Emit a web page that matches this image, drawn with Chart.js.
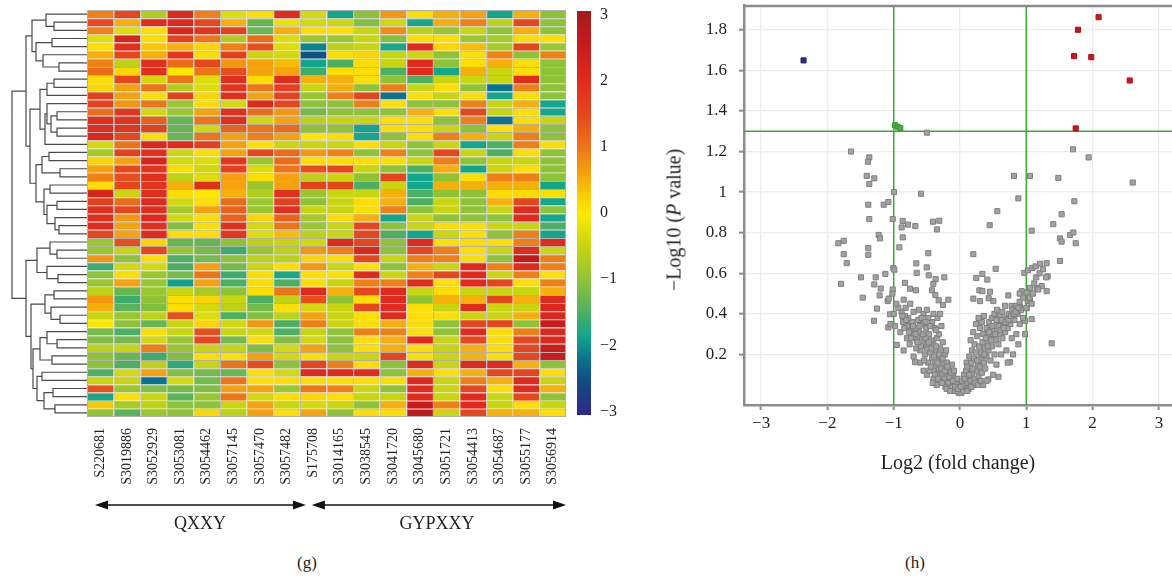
<!DOCTYPE html>
<html>
<head>
<meta charset="utf-8">
<script src="https://cdn.jsdelivr.net/npm/chart.js@4.4.1/dist/chart.umd.min.js"></script>
<style>
  html, body { margin: 0; padding: 0; background: #fff; overflow: hidden; width: 1172px; height: 580px; }
  body { position: relative; font-family: "Liberation Serif", "DejaVu Serif", serif; color: #231f20; }
  canvas { position: absolute; }
  .txt { position: absolute; white-space: nowrap; transform: translate(-50%, -50%); }
</style>
</head>
<body>
<canvas id="dendro" width="87" height="407" style="left:0;top:10px"></canvas>
<canvas id="heat" width="479" height="507" style="left:87px;top:10px"></canvas>
<canvas id="scale" width="45" height="424" style="left:577px;top:1px"></canvas>
<canvas id="volcano" width="560" height="480" style="left:640px;top:0"></canvas>

<div class="txt" style="left:200px;top:523px;font-size:18px">QXXY</div>
<div class="txt" style="left:437px;top:523px;font-size:18px">GYPXXY</div>
<div class="txt" style="left:307px;top:563px;font-size:17px">(g)</div>
<div class="txt" style="left:915px;top:563px;font-size:17px">(h)</div>
<div class="txt" style="left:958px;top:462px;font-size:20px">Log2 (fold change)</div>
<div class="txt" style="left:674px;top:220px;font-size:20px;transform:translate(-50%,-50%) rotate(-90deg)">&minus;Log10 (<i>P</i> value)</div>

<script>
// ---------- heatmap data ----------
const samples = ['S220681', 'S3019886', 'S3052929', 'S3053081', 'S3054462', 'S3057145', 'S3057470', 'S3057482',
  'S175708', 'S3014165', 'S3038545', 'S3041720', 'S3045680', 'S3051721', 'S3054413', 'S3054687', 'S3055177', 'S3056914'];

// one row per gene, one value per sample (z-score)
const heat = [
  [0.9,1.5,-0.7,2.0,0.9,-0.3,0.1,2.0,-0.4,-1.85,-1.0,0.7,0.1,0.5,0.6,-1.85,0.5,-1.0],
  [1.5,0.5,2.0,2.1,1.5,0.5,-1.3,-0.2,-0.4,-0.5,-1.1,-0.4,-1.8,0.5,0.9,-0.6,1.5,-1.0],
  [0.9,-0.3,0.1,2.1,1.8,1.6,-1.3,0.5,0.1,0.1,-0.5,0.8,-0.6,-0.9,-0.5,-1.0,0.5,-1.0],
  [-0.3,2.2,0.1,1.6,1.0,-0.7,1.1,-0.3,-0.9,-0.9,-0.5,-1.1,0.1,0.1,-0.9,-0.8,0.1,0.1],
  [0.1,1.9,0.3,0.5,0.2,0.9,1.4,-0.3,-2.1,-0.6,-0.5,-1.8,2.0,0.2,0.4,-0.8,1.5,-0.9],
  [0.5,1.5,0.5,1.8,0.1,1.6,-0.5,-0.4,-2.5,0.1,0.2,-0.5,-0.5,-1.0,0.1,0.9,-1.0,0.9],
  [0.9,-0.6,1.9,1.1,1.5,0.7,0.6,0.4,-1.85,-1.5,0.1,-0.5,2.0,-1.0,0.1,0.5,0.1,-1.0],
  [1.1,0.2,1.9,0.0,1.0,1.4,0.6,0.6,-1.6,0.1,0.1,-1.5,2.0,-1.85,0.5,-0.5,0.1,-1.0],
  [0.1,1.5,-0.4,1.0,-0.3,1.9,0.1,2.0,0.5,0.5,0.1,-1.0,-1.5,-0.5,-0.5,-0.5,2.0,-1.0],
  [0.2,0.6,1.0,-0.7,-0.3,1.8,1.0,1.6,-0.5,0.5,-1.0,0.9,-0.5,0.1,-1.0,-2.2,0.9,-1.0],
  [1.6,0.6,0.1,1.6,0.2,1.9,0.6,1.6,-0.9,0.9,1.5,-2.2,0.1,-0.5,0.1,-1.85,0.1,-1.0],
  [1.6,0.7,1.0,-0.9,0.1,-0.4,2.0,1.5,-1.0,-1.0,0.9,0.1,-1.0,-1.0,0.9,-0.5,0.5,-1.85],
  [1.1,1.8,-0.4,-0.9,0.6,1.9,1.1,0.7,-1.2,-1.0,-1.0,-1.0,0.5,0.1,1.5,-0.5,0.1,-1.85],
  [1.9,1.8,1.2,-1.3,1.0,1.9,-0.4,0.6,-0.6,-0.5,-0.5,0.1,0.1,-1.0,0.9,-2.2,0.1,-0.5],
  [1.9,1.8,1.6,-1.3,-0.4,1.2,1.0,1.1,-1.0,-1.0,-1.85,0.1,0.1,-0.5,-1.0,0.1,0.5,-1.0],
  [2.1,1.5,0.1,-1.3,1.0,0.6,0.9,0.6,0.0,0.1,-1.85,-1.0,0.1,0.9,0.5,-0.5,0.9,-1.0],
  [-0.4,1.0,2.1,2.0,1.6,0.6,0.1,-0.5,-0.5,-0.5,0.1,-0.5,-1.0,-0.5,-1.85,-1.5,0.9,0.1],
  [-0.8,1.6,1.9,-0.5,0.1,0.6,1.5,1.1,0.7,0.9,-1.0,0.9,-1.0,1.5,-0.5,-1.5,0.1,-1.0],
  [0.2,0.6,2.2,-0.4,-0.3,1.8,-0.9,1.1,0.1,0.1,0.1,0.1,-0.5,0.9,-1.0,-0.5,-0.5,-1.0],
  [0.6,1.5,1.8,0.1,-0.4,1.6,-0.3,1.0,1.4,1.5,-0.5,-1.0,-1.5,0.5,-1.85,-0.5,0.1,-1.0],
  [0.9,1.4,1.9,-0.6,-0.3,0.6,0.1,0.6,-0.6,-0.5,-1.0,1.5,-1.85,-1.0,0.1,0.9,0.9,-1.0],
  [0.1,1.5,1.8,0.5,1.9,0.6,-0.9,0.6,1.6,1.5,-1.5,-0.5,-1.85,0.5,0.5,0.5,0.5,-1.85],
  [2.2,-0.5,1.9,0.1,0.0,0.5,-0.7,1.9,-0.9,-0.5,-0.5,0.5,-1.5,-1.0,-1.0,0.1,0.1,0.1],
  [1.6,1.1,2.0,-0.4,0.1,1.1,-0.9,1.6,-1.0,-0.5,0.1,0.5,-1.5,-0.5,-1.0,0.5,1.5,-1.85],
  [1.9,1.5,1.9,-0.8,0.6,1.2,-0.9,1.9,-0.5,-0.5,0.1,0.9,-1.0,-0.5,-1.0,-0.5,2.0,-1.0],
  [1.9,0.7,2.0,-0.4,0.1,1.2,0.2,1.2,-0.8,0.1,0.5,-1.85,-0.5,-1.0,-1.0,-1.0,2.0,-1.85],
  [2.0,0.6,1.9,-1.1,0.1,1.9,-0.4,1.0,-0.9,-0.5,1.5,-1.0,-0.5,0.1,0.1,-0.5,-0.5,-1.5],
  [1.5,0.6,2.0,0.1,0.1,1.8,-0.3,0.4,-0.6,-0.5,1.5,-1.5,-1.85,-0.5,0.1,-1.0,0.9,-1.85],
  [-0.9,1.4,0.2,-1.3,-1.3,-1.0,-0.6,-0.5,-0.4,2.0,1.5,-1.0,2.0,0.1,0.1,0.1,0.9,2.0],
  [-0.9,-0.5,1.5,-0.9,-1.2,-1.6,-0.9,-0.6,0.7,0.9,2.1,-1.0,1.5,0.9,0.1,-0.5,2.0,-0.5],
  [0.7,-1.0,0.1,-1.5,-1.2,-1.0,-0.6,-0.6,0.2,0.1,1.5,-0.5,0.9,0.9,0.1,-1.0,2.6,0.9],
  [-1.6,-0.4,-0.4,-1.5,0.6,-1.2,-0.5,0.1,0.7,-0.5,0.1,-1.0,0.5,-0.5,2.0,0.9,2.0,0.9],
  [-1.0,0.1,-0.9,-1.2,1.0,-1.6,0.1,-1.8,0.1,0.1,2.0,-0.5,0.9,1.5,2.0,-0.5,0.9,0.1],
  [-0.9,0.6,-0.9,-1.9,0.6,-1.5,0.1,-1.5,0.1,-0.5,0.9,0.9,2.0,0.1,2.0,1.5,0.1,0.9],
  [-0.6,-1.3,-0.9,-0.5,-0.8,-1.0,0.1,1.0,2.0,0.5,1.5,2.0,-0.5,0.1,-0.5,-0.5,-0.5,0.5],
  [0.7,-1.6,-1.0,0.1,0.2,-0.5,-1.5,-0.6,1.4,-1.0,0.1,2.0,-1.0,0.5,0.5,1.5,0.5,2.0],
  [0.5,-1.4,-1.1,0.1,-0.4,-0.6,-1.2,0.1,-0.4,-0.5,1.5,2.0,0.1,-0.5,2.0,-0.5,-0.5,2.1],
  [-0.5,-0.9,-0.6,1.4,-0.3,-1.5,-1.1,-0.6,0.6,-0.5,0.1,2.0,0.1,0.1,-0.5,-0.5,0.5,2.1],
  [0.0,-1.0,-1.3,-0.5,0.2,-0.4,0.7,-1.5,0.9,-0.5,0.1,0.5,0.1,-1.0,1.5,1.5,-1.0,2.5],
  [-1.2,-1.5,0.1,-0.5,1.4,-0.5,-0.4,-1.5,-0.5,-1.0,0.9,0.9,0.1,-1.0,2.0,0.1,0.9,2.1],
  [-1.1,-1.2,-0.4,-0.9,1.5,-1.2,0.1,-1.1,-0.4,-1.0,0.1,0.5,2.0,-0.5,1.5,0.1,1.5,2.1],
  [-0.6,-0.5,0.9,-0.9,-0.5,-0.5,-1.1,-0.4,0.6,-1.0,0.1,0.5,0.1,-0.5,0.5,0.1,1.5,2.5],
  [-1.0,-1.3,-1.6,-1.1,0.1,0.1,0.6,-0.4,0.1,-0.5,-0.5,1.5,0.1,-0.5,0.5,0.1,1.5,2.5],
  [-1.0,-1.5,-0.6,-1.7,-0.5,1.0,1.4,-1.0,1.5,0.9,0.1,-1.0,2.0,-0.5,2.0,2.0,0.5,-1.0],
  [-1.5,-0.4,0.6,-1.1,-1.2,-1.3,0.1,-0.4,2.0,2.0,2.0,-1.0,0.5,0.1,0.5,1.5,1.5,0.1],
  [-0.5,-0.5,-2.2,-0.4,-1.2,1.0,0.1,0.1,0.1,0.1,0.1,0.1,2.0,-0.5,0.9,0.5,2.0,-0.5],
  [1.4,-0.9,-1.1,-1.2,-1.1,0.6,0.6,-0.9,1.0,0.9,-0.5,-1.0,2.0,-0.5,1.5,0.1,2.0,0.5],
  [-1.8,0.1,-0.5,-1.4,-0.9,1.0,-0.4,0.1,0.2,0.1,-0.5,-0.5,2.0,-0.5,2.0,-0.5,1.5,-1.0],
  [0.3,-0.8,-0.6,-1.0,-1.0,-0.5,0.6,-0.5,-0.4,-0.5,-1.0,0.5,2.6,0.9,2.0,-0.5,0.1,-0.5],
  [-1.0,-1.4,-0.9,-1.0,0.2,-0.6,0.6,0.1,0.6,-1.0,0.1,0.1,2.7,-0.5,1.5,0.5,0.5,0.1]
];

// row clustering: [height, left, right], numbers are row indexes
const clusterA = [55, [41, 0, [33, 1, 2]], [51, [35, 3, 4], [44, 5, [28, 6, 7]]]];
const clusterB = [47, [40, [33, 8, 9], 10], [42, [40, 11, [36, [30, 12, 13], [30, 14, 15]]], 16]];
const clusterC = [51, [45, [38, 17, 18], [27, 19, 20]], [43, [37, 21, 22], [40, [30, 23, 24], [32, 25, [28, 26, 27]]]]];
const clusterD = [50, [37, 28, [30, 29, 30]], [40, 31, [29, 32, 33]]];
const clusterE = [42, [33, 34, 35], [36, 36, [27, 37, 38]]];
const clusterF = [47, [40, 39, [30, 40, 41]], [35, 42, 43]];
const clusterG = [50, [45, 44, 45], [43, [34, 46, 47], [32, 48, 49]]];
const rowTree = [75, [61, clusterA, [57, clusterB, clusterC]], [61, clusterD, [56, clusterE, [54, clusterF, clusterG]]]];

const scaleTicks = [3, 2, 1, 0, -1, -2, -3];

// ---------- volcano data: [log2 fold change, -log10 p] ----------
const upGenes = [[2.09, 1.862], [1.78, 1.80], [1.72, 1.67], [1.98, 1.665], [2.56, 1.55], [1.745, 1.314]];
const downGenes = [[-2.36, 1.649]];
const edgeGenes = [[-0.98, 1.33], [-0.94, 1.322], [-0.9, 1.316]];
const otherGenes = [
  [-0.50,1.293],[-1.644,1.20],[-1.368,1.171],[-1.388,1.150],[-1.407,1.08],[-1.293,1.068],[-1.368,1.04],[-0.995,1.00],
  [-0.588,0.992],[-1.383,0.938],[-1.151,0.938],[-1.081,0.951],[1.704,1.211],[1.94,1.171],[0.814,1.08],[1.056,1.08],
  [1.483,1.07],[2.605,1.047],[0.88,0.969],[1.724,0.955],[0.563,0.906],
  [-1.368,0.867],[-1.015,0.867],[-0.864,0.858],[-0.784,0.840],[-0.674,0.833],[-0.407,0.854],[-0.312,0.859],[-0.347,0.816],
  [0.448,0.837],[1.081,0.81],[1.407,0.842],[1.533,0.891],[1.508,0.772],[1.533,0.756],[1.659,0.789],[1.709,0.801],
  [1.745,0.748],[1.508,0.661],[-0.88,0.826],
  [-1.835,0.748],[-1.754,0.76],[-1.754,0.694],[-1.709,0.65],[-1.795,0.548],[-1.493,0.58],[-1.468,0.48],[-1.383,0.724],
  [-1.383,0.691],[-1.226,0.789],[-1.207,0.772],[-1.272,0.58],[-1.293,0.545],[-1.196,0.525],[-1.212,0.491],[-1.252,0.426],
  [-1.297,0.366],[-1.126,0.597],[-1.091,0.463],[-1.076,0.475],[-1.015,0.52],[-1.006,0.626],[-0.991,0.618],[-0.915,0.728],
  [-0.864,0.777],[-0.83,0.553],[-0.754,0.524],[-0.664,0.516],[-0.659,0.649],[-0.653,0.602],[-0.478,0.699],[-0.502,0.629],
  [-0.472,0.59],[-0.367,0.571],[-0.237,0.58],[-0.402,0.548],[-0.422,0.516],[-0.372,0.493],[-0.322,0.467],[-0.176,0.47],
  [-0.256,0.444],
  [0.201,0.694],[0.246,0.577],[0.337,0.597],[0.412,0.569],[0.538,0.622],[0.201,0.475],[0.292,0.516],[0.337,0.512],
  [0.452,0.509],[0.302,0.463],[0.432,0.477],[0.503,0.463],[0.729,0.491],[0.97,0.602],[1.026,0.615],[1.091,0.626],
  [1.141,0.634],[1.207,0.647],[1.307,0.65],[1.322,0.585],[1.056,0.528],[1.157,0.528],[1.232,0.537],[1.307,0.512],
  [0.93,0.512],[1.006,0.504],[1.021,0.463],[1.056,0.468],[0.779,0.439],[0.83,0.428],[0.905,0.434],[1.006,0.428],
  [0.98,0.366],[1.081,0.374],[1.383,0.255],[0.754,0.162],[0.427,0.077],[-0.679,0.162],[-0.955,0.247],[-1.081,0.333],
  [-1.056,0.398],
  [-0.02,0.01],[-0.05,0.02],[0.02,0.01],[-0.08,0.03],[0.05,0.02],[-0.1,0.05],[0.08,0.04],[-0.12,0.02],[0.1,0.06],
  [-0.06,0.06],[0.04,0.05],[-0.15,0.04],[0.13,0.03],[-0.14,0.08],[0.12,0.09],[-0.18,0.06],[0.16,0.07],[-0.2,0.1],
  [0.18,0.11],[-0.22,0.04],[0.2,0.05],[-0.24,0.08],[0.22,0.08],[-0.17,0.12],[0.15,0.13],[-0.27,0.11],[0.25,0.12],
  [-0.3,0.07],[0.28,0.09],[-0.25,0.14],[0.27,0.15],[-0.32,0.13],[0.3,0.14],[-0.35,0.1],[0.33,0.11],[-0.29,0.17],
  [0.31,0.18],[-0.38,0.15],[0.36,0.16],[-0.33,0.19],[0.34,0.2],[-0.4,0.12],[0.38,0.13],[-0.42,0.18],[0.4,0.19],
  [-0.37,0.22],[0.37,0.23],[-0.45,0.21],[0.43,0.22],[-0.4,0.25],[0.41,0.26],[-0.48,0.16],[0.46,0.17],[-0.44,0.27],
  [0.45,0.28],[-0.5,0.23],[0.48,0.24],[-0.47,0.3],[0.5,0.3],[-0.53,0.2],[0.52,0.2],[-0.55,0.26],[0.54,0.27],
  [-0.51,0.33],[0.56,0.32],[-0.58,0.29],[0.58,0.25],[-0.6,0.22],[0.6,0.3],[-0.57,0.35],[0.62,0.34],[-0.62,0.31],
  [0.64,0.28],[-0.65,0.27],[0.66,0.36],[-0.63,0.37],[0.68,0.31],[-0.68,0.33],[0.7,0.38],[-0.7,0.3],[0.72,0.33],
  [-0.72,0.36],[0.74,0.4],[-0.75,0.32],[0.76,0.35],[-0.78,0.38],[0.79,0.42],[-0.8,0.34],[0.82,0.37],[-0.83,0.39],
  [0.85,0.44],[-0.86,0.36],[0.87,0.4],[-0.88,0.41],[0.9,0.46],[-0.9,0.31],[0.92,0.42],[-0.93,0.43],[0.95,0.48],
  [-0.1,0.1],[-0.12,0.15],[-0.2,0.16],[-0.23,0.2],[-0.3,0.23],[-0.26,0.26],[-0.35,0.28],[-0.32,0.3],[-0.38,0.33],
  [-0.28,0.34],[-0.42,0.36],[-0.34,0.38],[-0.3,0.4],[-0.4,0.4],[-0.45,0.34],[-0.36,0.32],[0.06,0.1],[0.1,0.16],
  [0.14,0.19],[0.18,0.22],[0.22,0.25],[0.16,0.27],[0.26,0.29],[0.2,0.31],[0.3,0.33],[0.24,0.35],[0.33,0.36],
  [0.28,0.38],[0.36,0.39],[0.4,0.33],[0.44,0.36],[0.48,0.38],[0.52,0.4],[0.56,0.42],[0.6,0.39],[0.64,0.41],
  [0.68,0.44],[0.35,0.3],[0.42,0.3],[0.46,0.32],
  [-1.0,0.4],[-0.98,0.34],[-1.05,0.35],[-0.96,0.45],[-1.02,0.5],[-0.85,0.47],[-0.82,0.43],[-0.75,0.45],[-0.7,0.41],
  [-0.62,0.42],[-0.55,0.4],[-0.5,0.42],[-0.48,0.38],[-0.66,0.23],[-0.8,0.28],[-0.85,0.22],[-0.76,0.25],[-0.6,0.16],
  [-0.55,0.12],[-0.5,0.1],[-0.7,0.19],[-0.4,0.08],[-0.35,0.05],
  [0.9,0.35],[0.95,0.38],[1.0,0.43],[1.05,0.48],[1.1,0.5],[1.12,0.55],[1.15,0.58],[1.2,0.6],[1.25,0.62],[1.3,0.58],
  [1.18,0.52],[1.08,0.45],[0.98,0.3],[0.85,0.3],[0.78,0.28],[0.88,0.25],[0.7,0.22],[0.62,0.2],[0.55,0.15],[0.5,0.1],
  [0.72,0.16],[0.8,0.2],[0.4,0.07],[0.35,0.05],[0.58,0.09],[0.9,0.5],
  [-0.52,0.28],[-0.49,0.25],[-0.46,0.12],[-0.43,0.23],[-0.41,0.06],[-0.39,0.19],[-0.36,0.24],[-0.34,0.16],[-0.31,0.2],
  [-0.28,0.13],[-0.26,0.18],[-0.23,0.12],[-0.21,0.22],[-0.19,0.14],[-0.16,0.09],[-0.13,0.11],[-0.11,0.07],[-0.09,0.12],
  [-0.07,0.04],[-0.04,0.08],[-0.03,0.03],[0.01,0.04],[0.03,0.07],[0.07,0.08],[0.09,0.12],[0.11,0.14],[0.14,0.1],
  [0.17,0.16],[0.19,0.13],[0.21,0.18],[0.24,0.21],[0.26,0.17],[0.29,0.24],[0.32,0.21],[0.34,0.26],[0.37,0.2],
  [0.39,0.28],[0.42,0.24],[0.44,0.31],[0.47,0.27],[0.49,0.34],[0.53,0.3],[0.55,0.37],[0.58,0.34],[0.61,0.32],
  [0.63,0.37],[0.66,0.33],[0.69,0.36],[0.73,0.37],[0.77,0.39],[0.81,0.4],[0.84,0.41],[0.88,0.43],[-0.54,0.17],
  [-0.56,0.3],[-0.59,0.24],[-0.61,0.34],[-0.64,0.26],[-0.67,0.3],[-0.71,0.34],[-0.74,0.28],[-0.77,0.31],[-0.81,0.37],
  [-0.84,0.33],[-0.87,0.39],[-0.58,0.38],[-0.52,0.36],[-0.47,0.26],[-0.44,0.14],[-0.38,0.1],[-0.33,0.08],[-0.27,0.06],
  [-0.2,0.03],[-0.15,0.02],[0.11,0.02],[0.17,0.04],[0.23,0.06],[0.27,0.05],[0.31,0.07]
];
const fcCut = 1;
const pCut = 1.3;
const volXTicks = [-3, -2, -1, 0, 1, 2, 3];
const volYTicks = [0.2, 0.4, 0.6, 0.8, 1, 1.2, 1.4, 1.6, 1.8];
const volXRange = [-3.258, 3.258];
const volYRange = [-0.049, 1.922];

// ---------- helpers ----------
Chart.defaults.font.family = '"Liberation Serif", "DejaVu Serif", serif';
Chart.defaults.color = '#231f20';
Chart.defaults.animation = false;
Chart.defaults.plugins.legend.display = false;
Chart.defaults.plugins.tooltip.enabled = false;

const heatStops = [
  [-3, '#2e2a8a'], [-2.55, '#134a80'], [-2.2, '#0a7390'], [-1.85, '#12a68d'], [-1.5, '#4daf63'],
  [-1, '#8fc337'], [-0.5, '#c8d50f'], [0, '#ffe800'], [0.25, '#fbd004'], [0.6, '#f5a20e'],
  [1, '#ee7418'], [1.5, '#e6451d'], [2, '#e12a1d'], [2.6, '#c41a1b'], [3, '#a51b1f']
];
function hexRgb(h) { return [1, 3, 5].map(i => parseInt(h.substr(i, 2), 16)); }
function heatColor(v) {
  if (v <= heatStops[0][0]) return heatStops[0][1];
  for (let i = 1; i < heatStops.length; i++) {
    if (v <= heatStops[i][0]) {
      const [v0, c0] = heatStops[i - 1], [v1, c1] = heatStops[i];
      const t = (v - v0) / (v1 - v0), a = hexRgb(c0), b = hexRgb(c1);
      return 'rgb(' + a.map((x, k) => Math.round(x + (b[k] - x) * t)).join(',') + ')';
    }
  }
  return heatStops[heatStops.length - 1][1];
}
function minus(v) { return v < 0 ? '\u2212' + (-v) : String(v); }
// keep tick label padding from shrinking the plot area
function noPad(s) { s.paddingTop = 0; s.paddingBottom = 0; s.paddingLeft = 0; s.paddingRight = 0; }

// ---------- dendrogram ----------
const dendroPts = [];
function walk(node) {
  if (typeof node === 'number') return { y: node + 0.5, h: 0 };
  const l = walk(node[1]), r = walk(node[2]);
  dendroPts.push({ x: l.h, y: l.y }, { x: node[0], y: l.y }, { x: node[0], y: r.y }, { x: r.h, y: r.y }, { x: null, y: null });
  return { y: (l.y + r.y) / 2, h: node[0] };
}
walk(rowTree);

new Chart(document.getElementById('dendro'), {
  type: 'scatter',
  data: { datasets: [{ data: dendroPts, showLine: true, spanGaps: false, borderColor: '#4a4a4a', borderWidth: 1.2, pointRadius: 0 }] },
  options: {
    responsive: false,
    layout: { padding: 0 },
    scales: {
      x: { type: 'linear', min: 0, max: 87, reverse: true, display: false },
      y: { type: 'linear', min: 0, max: heat.length, reverse: true, display: false }
    }
  }
});

// ---------- heatmap ----------
function drawArrow(ctx, x1, x2, y) {
  const hl = 13, hw = 4.5;
  ctx.beginPath();
  ctx.moveTo(x1 + hl - 2, y); ctx.lineTo(x2 - hl + 2, y); ctx.stroke();
  ctx.beginPath();
  ctx.moveTo(x1, y); ctx.lineTo(x1 + hl, y - hw); ctx.lineTo(x1 + hl, y + hw); ctx.closePath(); ctx.fill();
  ctx.beginPath();
  ctx.moveTo(x2, y); ctx.lineTo(x2 - hl, y - hw); ctx.lineTo(x2 - hl, y + hw); ctx.closePath(); ctx.fill();
}

const heatFrame = {
  id: 'heatFrame',
  afterDatasetsDraw(chart) {
    const { ctx, chartArea: a, scales: { x } } = chart;
    const half = (x.getPixelForValue(1) - x.getPixelForValue(0)) / 2;
    ctx.save();
    ctx.strokeStyle = '#b0b0b0';
    ctx.lineWidth = 1;
    ctx.strokeRect(a.left + 0.5, a.top + 0.5, a.width - 1, a.height - 1);
    ctx.strokeStyle = '#111';
    ctx.fillStyle = '#111';
    ctx.lineWidth = 1.4;
    const y = a.bottom + 88;
    const split = x.getPixelForValue(8) - half;
    drawArrow(ctx, x.getPixelForValue(0) - half + 8, split + 6, y);
    drawArrow(ctx, split + 12, x.getPixelForValue(samples.length - 1) + half, y);
    ctx.restore();
  }
};

new Chart(document.getElementById('heat'), {
  type: 'bar',
  data: {
    labels: samples,
    datasets: heat.map((row, i) => ({
      data: row.map(() => [i, i + 1]),
      backgroundColor: row.map(heatColor),
      borderColor: '#b0b0b0',
      borderWidth: { left: 1, top: 1, right: 0, bottom: 0 },
      borderSkipped: false,
      inflateAmount: 0,
      barPercentage: 1,
      categoryPercentage: 1
    }))
  },
  options: {
    responsive: false,
    layout: { padding: 0 },
    scales: {
      x: {
        stacked: true,
        grid: { display: false, drawTicks: false },
        border: { display: false },
        ticks: { autoSkip: false, minRotation: 90, maxRotation: 90, padding: 11, font: { size: 14 }, color: '#231f20' },
        afterFit(s) { s.height = 100; noPad(s); }
      },
      y: { min: 0, max: heat.length, reverse: true, display: false }
    }
  },
  plugins: [heatFrame]
});

// ---------- colour scale ----------
new Chart(document.getElementById('scale'), {
  type: 'bar',
  data: {
    labels: [''],
    datasets: [{
      data: [[-3.05, 3.05]],
      barPercentage: 1,
      categoryPercentage: 1,
      borderWidth: 0,
      backgroundColor(c) {
        const chart = c.chart, y = chart.scales.y;
        if (!chart.chartArea || !y) return '#ffe800';
        const top = y.getPixelForValue(3.05), bottom = y.getPixelForValue(-3.05);
        const g = chart.ctx.createLinearGradient(0, top, 0, bottom);
        g.addColorStop(0, heatStops[heatStops.length - 1][1]);
        heatStops.forEach(([v, col]) => g.addColorStop((3.05 - v) / 6.1, col));
        g.addColorStop(1, heatStops[0][1]);
        return g;
      }
    }]
  },
  options: {
    responsive: false,
    layout: { padding: { top: 10, bottom: 10, left: 0, right: 0 } },
    scales: {
      x: { display: false },
      y: {
        position: 'right',
        min: -3.05, max: 3.05,
        afterBuildTicks(s) { s.ticks = scaleTicks.map(v => ({ value: v })); },
        afterFit(s) { s.width = 31; noPad(s); },
        grid: { display: false, drawTicks: false },
        border: { display: false },
        ticks: { padding: 9, font: { size: 16 }, color: '#231f20', callback: v => minus(v) }
      }
    }
  }
});

// ---------- volcano ----------
const boxPlugin = {
  id: 'box',
  afterDatasetsDraw(chart) {
    const { ctx, chartArea: a } = chart;
    ctx.save();
    ctx.strokeStyle = '#8c8c8c';
    ctx.lineWidth = 2.5;
    ctx.beginPath();
    ctx.moveTo(a.left, a.top + 1); ctx.lineTo(a.right, a.top + 1); ctx.lineTo(a.right, a.bottom);
    ctx.stroke();
    ctx.restore();
  }
};
const toXY = arr => arr.map(([x, y]) => ({ x, y }));
const ptStyle = (fill, edge) => ({ pointStyle: 'rect', pointRadius: 3.6, backgroundColor: fill, borderColor: edge, borderWidth: 1, order: 0 });
const cutLine = pts => ({ data: pts, showLine: true, borderColor: '#3aa935', borderWidth: 1.5, pointRadius: 0, order: 1 });

new Chart(document.getElementById('volcano'), {
  type: 'scatter',
  data: {
    datasets: [
      cutLine([{ x: -fcCut, y: volYRange[0] }, { x: -fcCut, y: volYRange[1] }]),
      cutLine([{ x: fcCut, y: volYRange[0] }, { x: fcCut, y: volYRange[1] }]),
      cutLine([{ x: volXRange[0], y: pCut }, { x: volXRange[1], y: pCut }]),
      Object.assign({ data: toXY(otherGenes) }, ptStyle('#a2a2a2', '#7f7f7f')),
      Object.assign({ data: toXY(edgeGenes) }, ptStyle('#46b03f', '#3a9a34')),
      Object.assign({ data: toXY(upGenes) }, ptStyle('#c9151d', '#b01018')),
      Object.assign({ data: toXY(downGenes) }, ptStyle('#2e2c80', '#24226c'))
    ]
  },
  options: {
    responsive: false,
    layout: { padding: { top: 1, right: 24, left: 0, bottom: 0 } },
    scales: {
      x: {
        type: 'linear', min: volXRange[0], max: volXRange[1],
        afterBuildTicks(s) { s.ticks = volXTicks.map(v => ({ value: v })); },
        afterFit(s) { s.height = 75; noPad(s); },
        grid: { color: '#ececec', lineWidth: 1.3, tickColor: '#8c8c8c', tickLength: 5, tickWidth: 2 },
        border: { display: true, color: '#8c8c8c', width: 2.5 },
        ticks: { padding: 3, font: { size: 17 }, color: '#231f20', callback: v => minus(v) }
      },
      y: {
        type: 'linear', min: volYRange[0], max: volYRange[1],
        afterBuildTicks(s) { s.ticks = volYTicks.map(v => ({ value: v })); },
        afterFit(s) { s.width = 104; noPad(s); },
        grid: { color: '#ececec', lineWidth: 1.3, tickColor: '#8c8c8c', tickLength: 5, tickWidth: 2 },
        border: { display: true, color: '#8c8c8c', width: 2.5 },
        ticks: { padding: 12, font: { size: 17 }, color: '#231f20', callback: v => String(+v.toFixed(1)) }
      }
    }
  },
  plugins: [boxPlugin]
});
</script>
</body>
</html>
